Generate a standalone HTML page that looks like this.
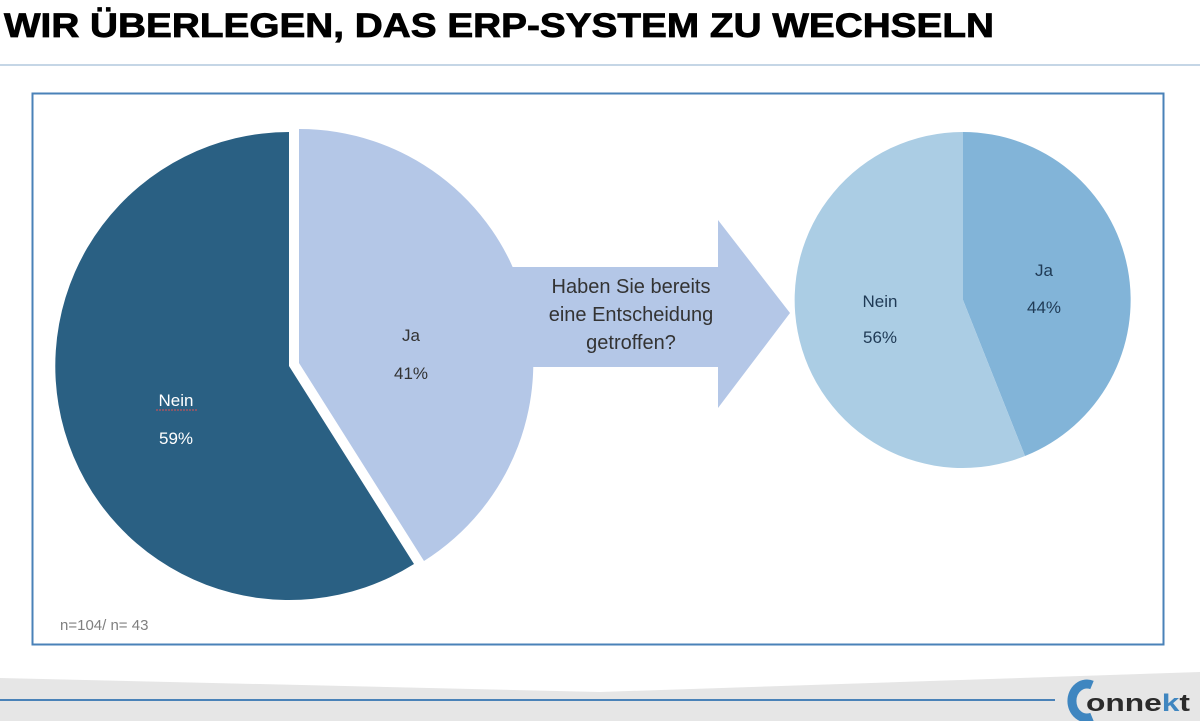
<!DOCTYPE html>
<html><head><meta charset="utf-8"><style>
body{margin:0;width:1200px;height:721px;overflow:hidden;background:#fff;font-family:"Liberation Sans",sans-serif;position:relative}
</style></head><body>
<svg width="1200" height="721" style="position:absolute;left:0;top:0">
<text x="4" y="37" font-family="Liberation Sans" font-weight="bold" font-size="34" fill="#000" stroke="#000" stroke-width="0.8" textLength="990" lengthAdjust="spacingAndGlyphs">WIR ÜBERLEGEN, DAS ERP-SYSTEM ZU WECHSELN</text>
<rect x="0" y="64" width="1200" height="2" fill="#c5d6e6"/>
<rect x="32.5" y="93.5" width="1131" height="551" fill="none" stroke="#4a82b8" stroke-width="2"/>
<polygon points="0,678 600,692 1200,672 1200,721 0,721" fill="#e6e6e6"/>
<rect x="0" y="699" width="1055" height="2" fill="#4a82b8"/>
<polygon points="500,267 718,267 718,220 790,313 718,408 718,367 500,367" fill="#b4c7e7"/>
<path d="M289,366 L289,132 A234,234 0 1,0 414,564 Z" fill="#2a6083"/>
<path d="M299,363 L299,129 A234,234 0 0,1 424,561 Z" fill="#b4c7e7"/>
<path d="M963,300 L963,132 A168,168 0 0,1 1025,456 Z" fill="#82b4d8"/>
<path d="M963,300 L1025,456 A168,168 0 1,1 963,132 Z" fill="#abcde4"/>
<g font-family="Liberation Sans" font-size="17" text-anchor="middle">
<text x="176" y="406" fill="#fff">Nein</text>
<line x1="156" y1="410" x2="197" y2="410" stroke="#e05050" stroke-width="1" stroke-dasharray="2,1"/>
<text x="176" y="444" fill="#fff">59%</text>
<text x="411" y="341" fill="#333">Ja</text>
<text x="411" y="379" fill="#333">41%</text>
<text x="880" y="307" fill="#1f3a55">Nein</text>
<text x="880" y="343" fill="#1f3a55">56%</text>
<text x="1044" y="276" fill="#1f3a55">Ja</text>
<text x="1044" y="313" fill="#1f3a55">44%</text>
</g>
<g font-family="Liberation Sans" font-size="20" text-anchor="middle" fill="#333">
<text x="631" y="293">Haben Sie bereits</text>
<text x="631" y="321">eine Entscheidung</text>
<text x="631" y="349">getroffen?</text>
</g>
<text x="60" y="630" font-family="Liberation Sans" font-size="15" fill="#7f7f7f">n=104/ n= 43</text>
<path d="M1092,685 A15,17 0 1,0 1092,717" fill="none" stroke="#3f86c0" stroke-width="9"/>
<text x="1086" y="711" font-family="Liberation Sans" font-weight="bold" font-size="24" fill="#2b2b2b" textLength="104" lengthAdjust="spacingAndGlyphs">onne<tspan fill="#3f86c0">k</tspan>t</text>
</svg>
</body></html>
